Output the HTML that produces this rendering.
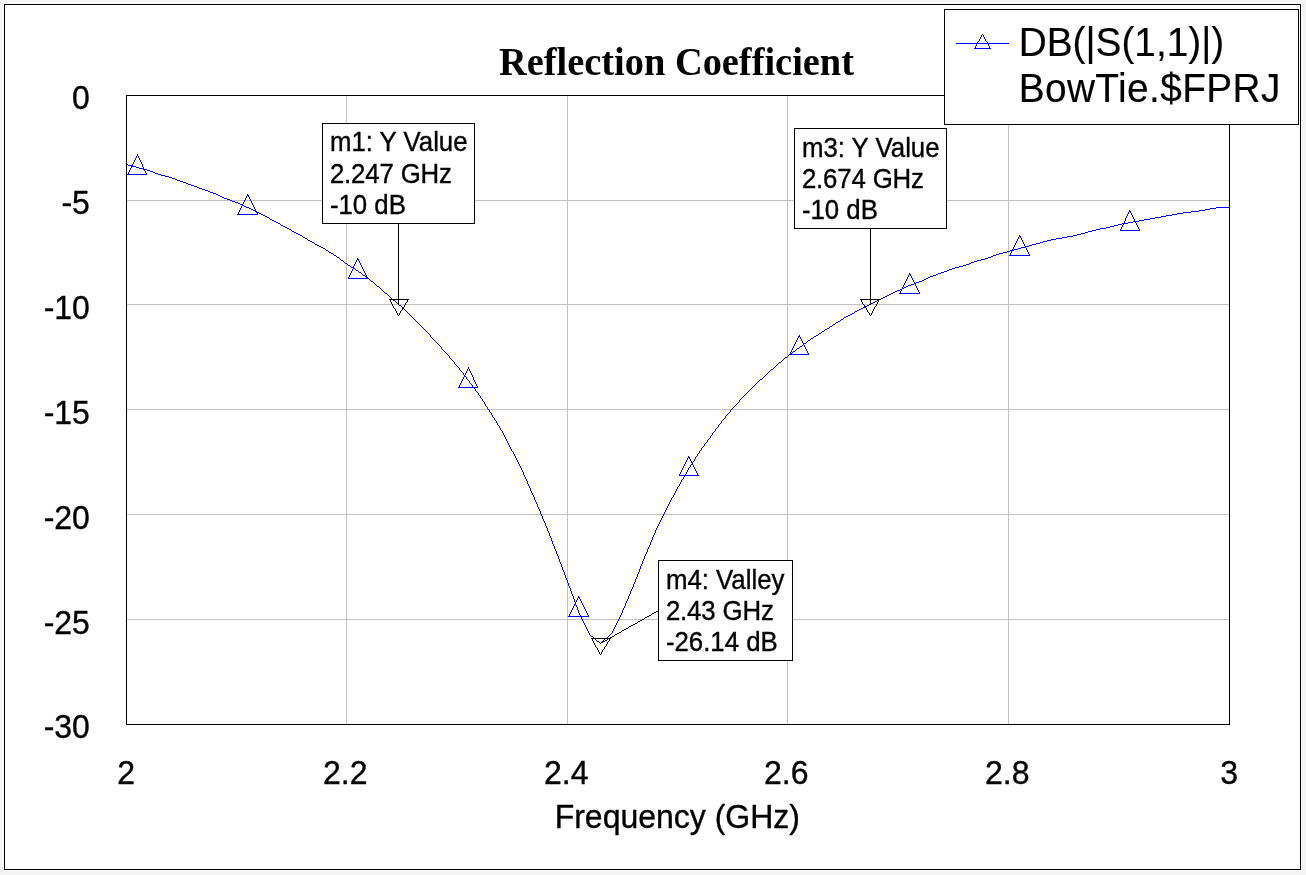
<!DOCTYPE html>
<html lang="en"><head><meta charset="utf-8"><title>Reflection Coefficient</title>
<style>html,body{margin:0;padding:0;background:#f4f4f4}body{width:1306px;height:875px}svg{display:block}text{font-family:"Liberation Sans",Arial,Helvetica,sans-serif;fill:#000;stroke:#000;stroke-width:0.35;stroke-linejoin:round}.t{font-family:"Liberation Serif","Times New Roman",Times,serif;font-weight:bold;stroke-width:0}.l{stroke-width:0.15}.c{shape-rendering:crispEdges;fill:none;stroke-width:1}</style></head><body>
<svg width="1306" height="875" viewBox="0 0 1306 875" role="img" aria-label="Reflection Coefficient chart">
<rect x="0" y="0" width="1306" height="875" fill="#f4f4f4"/>
<rect x="3" y="3" width="1299" height="868" fill="#fff"/>
<rect class="c" x="4.5" y="4.5" width="1296" height="865" stroke="#000"/>
<path class="c" d="M346.5 96V724M567.5 96V724M787.5 96V724M1008.5 96V724M127 200.5H1229M127 304.5H1229M127 409.5H1229M127 514.5H1229M127 619.5H1229" stroke="#c0c0c0"/>
<path class="c" d="M126 164.5h2M128 165.5h5M131 166.5h5M136 167.5h3M139 168.5h5M143 169.5h4M147 170.5h3M150 171.5h3M153 172.5h2M155 173.5h3M127 174.5h20M158 174.5h3M161 175.5h4M165 176.5h4M169 177.5h3M172 178.5h3M175 179.5h2M177 180.5h3M180 181.5h3M183 182.5h3M186 183.5h2M188 184.5h3M191 185.5h3M194 186.5h3M197 187.5h2M199 188.5h3M202 189.5h3M205 190.5h3M208 191.5h2M210 192.5h3M213 193.5h3M216 194.5h2M218 195.5h2M247 195.5h2M220 196.5h2M222 197.5h2M224 198.5h3M227 199.5h3M230 200.5h2M232 201.5h3M235 202.5h3M238 203.5h2M240 204.5h3M242 205.5h2M244 206.5h2M246 207.5h3M1216 207.5h14M249 208.5h2M1210 208.5h6M251 209.5h2M1205 209.5h5M253 210.5h3M1199 210.5h6M255 211.5h2M1129 211.5h2M1191 211.5h8M256 212.5h3M1183 212.5h8M259 213.5h2M1177 213.5h6M237 214.5h21M261 214.5h2M1172 214.5h5M263 215.5h2M1166 215.5h6M265 216.5h2M1161 216.5h5M267 217.5h2M1155 217.5h6M1150 218.5h5M270 219.5h2M1144 219.5h6M272 220.5h2M1139 220.5h5M274 221.5h2M1133 221.5h6M276 222.5h2M1128 222.5h5M278 223.5h2M1122 223.5h6M1118 224.5h4M281 225.5h2M1114 225.5h4M283 226.5h2M1110 226.5h4M285 227.5h2M1106 227.5h4M287 228.5h2M1100 228.5h6M289 229.5h2M1096 229.5h4M1092 230.5h4M1120 230.5h20M292 231.5h2M1088 231.5h4M294 232.5h2M1085 232.5h3M296 233.5h2M1081 233.5h4M298 234.5h2M1077 234.5h4M300 235.5h2M1073 235.5h4M1019 236.5h2M1067 236.5h6M303 237.5h2M1062 237.5h5M305 238.5h2M1056 238.5h6M1051 239.5h5M308 240.5h2M1047 240.5h4M310 241.5h2M1043 241.5h4M312 242.5h2M1040 242.5h3M1036 243.5h4M315 244.5h2M1032 244.5h4M317 245.5h2M1029 245.5h3M319 246.5h2M1025 246.5h4M321 247.5h2M1021 247.5h5M323 248.5h2M1018 248.5h3M1014 249.5h4M326 250.5h2M1010 250.5h4M1007 251.5h3M329 252.5h2M1003 252.5h4M331 253.5h2M999 253.5h4M996 254.5h3M334 255.5h2M993 255.5h3M1009 255.5h21M991 256.5h2M337 257.5h2M988 257.5h3M985 258.5h3M357 259.5h2M981 259.5h4M341 260.5h2M977 260.5h4M974 261.5h3M971 262.5h3M345 263.5h2M969 263.5h2M966 264.5h3M348 265.5h2M963 265.5h3M959 266.5h4M351 267.5h3M955 267.5h4M353 268.5h2M952 268.5h3M949 269.5h3M356 270.5h2M947 270.5h2M944 271.5h3M359 272.5h2M941 272.5h3M938 273.5h3M909 274.5h2M936 274.5h2M363 275.5h2M933 275.5h3M365 276.5h2M930 276.5h3M366 277.5h2M928 277.5h2M348 278.5h21M926 278.5h2M924 279.5h2M922 280.5h2M371 281.5h2M919 281.5h3M916 282.5h3M914 283.5h2M911 284.5h3M908 285.5h3M377 286.5h2M906 286.5h2M904 287.5h2M902 288.5h2M900 289.5h2M897 290.5h3M895 291.5h2M893 292.5h2M385 293.5h2M891 293.5h2M899 293.5h21M889 294.5h2M887 295.5h2M885 296.5h2M883 297.5h2M881 298.5h2M879 299.5h2M393 300.5h2M877 300.5h2M875 301.5h2M873 302.5h2M871 303.5h2M869 304.5h2M399 305.5h2M867 305.5h2M865 306.5h2M863 307.5h2M861 308.5h2M859 309.5h2M857 310.5h2M855 311.5h2M852 313.5h2M850 314.5h2M848 315.5h2M846 316.5h2M844 317.5h2M841 319.5h2M838 321.5h2M836 322.5h2M833 324.5h2M830 326.5h2M827 328.5h2M825 329.5h2M822 331.5h2M819 333.5h2M816 335.5h2M798 336.5h2M814 336.5h2M811 338.5h2M808 340.5h2M803 343.5h3M800 346.5h2M797 348.5h2M793 351.5h2M790 353.5h2M789 354.5h20M785 357.5h2M779 362.5h2M771 369.5h2M464 376.5h2M760 379.5h2M458 387.5h20M688 457.5h2M691 462.5h2M691 464.5h2M679 475.5h20M578 597.5h2M574 604.5h2M568 616.5h21M591 636.5h2M605 638.5h2M597 641.5h2M128.5 172v2M129.5 170v2M130.5 168v2M131.5 167v1M132.5 164v1M133.5 162v2M134.5 160v2M135.5 158v2M136.5 156v2M137.5 154v2M138.5 156v2M139.5 158v2M140.5 160v2M141.5 162v2M142.5 164v3M143.5 167v1M144.5 170v1M145.5 171v2M146.5 173v1M238.5 212v2M239.5 210v2M240.5 208v2M241.5 206v2M243.5 202v2M244.5 200v2M245.5 198v2M246.5 196v2M247.5 194v1M248.5 196v1M249.5 197v2M250.5 199v2M251.5 201v2M252.5 203v2M253.5 205v2M254.5 207v2M255.5 209v1M257.5 213v1M269.5 218v1M280.5 224v1M291.5 230v1M302.5 236v1M307.5 239v1M314.5 243v1M325.5 249v1M328.5 251v1M333.5 254v1M336.5 256v1M339.5 258v1M340.5 259v1M343.5 261v1M344.5 262v1M347.5 264v1M348.5 277v1M349.5 275v2M350.5 266v1M350.5 273v2M351.5 271v2M352.5 269v2M353.5 266v1M354.5 264v2M355.5 262v2M355.5 269v1M356.5 260v2M357.5 258v1M358.5 260v1M358.5 271v1M359.5 261v2M360.5 263v2M361.5 265v2M361.5 273v1M362.5 267v2M362.5 274v1M363.5 269v2M364.5 271v2M365.5 273v2M366.5 275v1M369.5 279v1M370.5 280v1M373.5 282v1M374.5 283v1M375.5 284v1M376.5 285v1M379.5 287v1M380.5 288v1M381.5 289v1M382.5 290v1M383.5 291v1M384.5 292v1M387.5 294v1M388.5 295v1M389.5 296v1M390.5 297v1M391.5 298v1M392.5 299v1M395.5 301v1M396.5 302v1M397.5 303v1M398.5 304v1M401.5 306v1M402.5 307v1M403.5 308v1M404.5 309v1M405.5 310v1M406.5 311v1M407.5 312v1M408.5 313v1M409.5 314v1M410.5 315v1M411.5 316v1M412.5 317v1M413.5 318v1M414.5 319v1M415.5 320v1M416.5 321v1M417.5 322v1M418.5 323v1M419.5 324v1M420.5 325v1M421.5 326v1M422.5 327v1M423.5 328v1M424.5 329v1M425.5 330v1M426.5 331v1M427.5 332v1M428.5 333v1M429.5 334v1M430.5 335v2M431.5 337v1M432.5 338v1M433.5 339v1M434.5 340v1M435.5 341v1M436.5 342v1M437.5 343v1M438.5 344v1M439.5 345v1M440.5 346v1M441.5 347v2M442.5 349v1M443.5 350v1M444.5 351v1M445.5 352v1M446.5 353v1M447.5 354v1M448.5 355v1M449.5 356v2M450.5 358v1M451.5 359v1M452.5 360v1M453.5 361v1M454.5 362v2M455.5 364v1M456.5 365v1M457.5 366v1M458.5 367v1M459.5 368v2M459.5 385v2M460.5 370v1M460.5 383v2M461.5 371v1M461.5 381v2M462.5 372v1M462.5 379v2M463.5 373v2M463.5 377v2M464.5 375v1M465.5 373v2M466.5 371v2M466.5 377v2M467.5 369v2M467.5 379v1M468.5 367v2M468.5 380v1M469.5 369v2M469.5 381v2M470.5 371v2M470.5 383v1M471.5 373v2M471.5 384v1M472.5 375v2M472.5 385v2M473.5 377v3M474.5 380v2M474.5 388v1M475.5 382v2M475.5 389v2M476.5 384v2M476.5 391v1M477.5 386v1M477.5 392v1M478.5 393v2M479.5 395v1M480.5 396v2M481.5 398v1M482.5 399v2M483.5 401v1M484.5 402v2M485.5 404v2M486.5 406v1M487.5 407v2M488.5 409v1M489.5 410v2M490.5 412v1M491.5 413v2M492.5 415v2M493.5 417v1M494.5 418v2M495.5 420v1M496.5 421v2M497.5 423v2M498.5 425v1M499.5 426v2M500.5 428v2M501.5 430v1M502.5 431v2M503.5 433v2M504.5 435v2M505.5 437v2M506.5 439v2M507.5 441v2M508.5 443v2M509.5 445v2M510.5 447v2M511.5 449v2M512.5 451v1M513.5 452v2M514.5 454v2M515.5 456v2M516.5 458v2M517.5 460v2M518.5 462v2M519.5 464v2M520.5 466v2M521.5 468v2M522.5 470v2M523.5 472v3M524.5 475v2M525.5 477v2M526.5 479v2M527.5 481v3M528.5 484v2M529.5 486v2M530.5 488v3M531.5 491v2M532.5 493v2M533.5 495v2M534.5 497v3M535.5 500v2M536.5 502v2M537.5 504v3M538.5 507v2M539.5 509v2M540.5 511v3M541.5 514v2M542.5 516v3M543.5 519v2M544.5 521v2M545.5 523v3M546.5 526v2M547.5 528v3M548.5 531v2M549.5 533v3M550.5 536v2M551.5 538v3M552.5 541v3M553.5 544v2M554.5 546v3M555.5 549v2M556.5 551v3M557.5 554v2M558.5 556v3M559.5 559v3M560.5 562v2M561.5 564v3M562.5 567v3M563.5 570v2M564.5 572v3M565.5 575v3M566.5 578v2M567.5 580v3M568.5 583v3M569.5 586v2M569.5 614v2M570.5 588v3M570.5 612v2M571.5 591v3M571.5 610v2M572.5 594v2M572.5 608v2M573.5 596v3M573.5 606v2M574.5 599v3M574.5 605v1M575.5 602v2M576.5 600v2M576.5 605v2M577.5 598v2M577.5 607v3M578.5 596v1M578.5 610v3M579.5 598v1M579.5 613v2M580.5 599v2M580.5 615v1M581.5 601v2M581.5 617v2M582.5 603v2M582.5 619v2M583.5 605v2M583.5 621v2M584.5 607v2M584.5 623v2M585.5 609v2M585.5 625v2M586.5 611v2M586.5 627v2M587.5 613v2M587.5 629v2M588.5 615v1M588.5 631v2M589.5 633v2M590.5 635v1M593.5 637v1M594.5 638v1M595.5 639v1M596.5 640v1M599.5 642v1M600.5 643v1M601.5 642v1M602.5 641v1M603.5 640v1M604.5 639v1M607.5 637v1M608.5 636v1M609.5 635v1M610.5 634v1M611.5 633v1M612.5 631v2M613.5 629v2M614.5 627v2M615.5 625v2M616.5 623v2M617.5 621v2M618.5 619v2M619.5 617v2M620.5 615v2M621.5 613v2M622.5 610v3M623.5 608v2M624.5 606v2M625.5 603v3M626.5 601v2M627.5 599v2M628.5 596v3M629.5 594v2M630.5 591v3M631.5 589v2M632.5 587v2M633.5 584v3M634.5 582v2M635.5 579v3M636.5 577v2M637.5 574v3M638.5 572v2M639.5 569v3M640.5 566v3M641.5 564v2M642.5 561v3M643.5 559v2M644.5 556v3M645.5 554v2M646.5 552v2M647.5 549v3M648.5 547v2M649.5 545v2M650.5 542v3M651.5 540v2M652.5 537v3M653.5 535v2M654.5 533v2M655.5 530v3M656.5 528v2M657.5 526v2M658.5 524v2M659.5 522v2M660.5 520v2M661.5 518v2M662.5 516v2M663.5 514v2M664.5 512v2M665.5 510v2M666.5 508v2M667.5 506v2M668.5 504v2M669.5 502v2M670.5 500v2M671.5 498v2M672.5 497v1M673.5 495v2M674.5 493v2M675.5 491v2M676.5 489v2M677.5 487v2M678.5 486v1M679.5 474v1M679.5 484v2M680.5 472v2M680.5 482v2M681.5 470v2M681.5 480v2M682.5 468v2M682.5 479v1M683.5 466v2M683.5 477v2M684.5 464v2M684.5 476v1M685.5 462v2M685.5 474v1M686.5 460v2M686.5 472v2M687.5 458v2M687.5 470v2M688.5 456v1M688.5 468v2M689.5 458v1M689.5 467v1M690.5 459v2M690.5 465v2M691.5 461v1M692.5 463v1M693.5 461v1M693.5 465v2M694.5 459v2M694.5 467v2M695.5 457v2M695.5 469v2M696.5 456v1M696.5 471v2M697.5 454v2M697.5 473v2M698.5 453v1M699.5 451v2M700.5 450v1M701.5 448v2M702.5 447v1M703.5 446v1M704.5 444v2M705.5 443v1M706.5 442v1M707.5 440v2M708.5 439v1M709.5 438v1M710.5 436v2M711.5 435v1M712.5 433v2M713.5 432v1M714.5 431v1M715.5 429v2M716.5 428v1M717.5 427v1M718.5 425v2M719.5 424v1M720.5 423v1M721.5 421v2M722.5 420v1M723.5 419v1M724.5 418v1M725.5 416v2M726.5 415v1M727.5 414v1M728.5 413v1M729.5 412v1M730.5 410v2M731.5 409v1M732.5 408v1M733.5 407v1M734.5 406v1M735.5 405v1M736.5 404v1M737.5 403v1M738.5 402v1M739.5 400v2M740.5 399v1M741.5 398v1M742.5 397v1M743.5 396v1M744.5 395v1M745.5 394v1M746.5 393v1M747.5 392v1M748.5 391v1M749.5 390v1M750.5 389v1M751.5 388v1M752.5 387v1M753.5 386v1M754.5 385v1M755.5 384v1M756.5 383v1M757.5 382v1M758.5 381v1M759.5 380v1M762.5 378v1M763.5 377v1M764.5 376v1M765.5 375v1M766.5 374v1M767.5 373v1M768.5 372v1M769.5 371v1M770.5 370v1M773.5 368v1M774.5 367v1M775.5 366v1M776.5 365v1M777.5 364v1M778.5 363v1M781.5 361v1M782.5 360v1M783.5 359v1M784.5 358v1M787.5 356v1M788.5 355v1M790.5 352v1M791.5 350v2M792.5 348v2M792.5 352v1M793.5 346v2M794.5 344v2M795.5 342v2M795.5 350v1M796.5 340v2M796.5 349v1M797.5 338v2M798.5 337v1M799.5 335v1M799.5 347v1M800.5 337v2M801.5 339v2M802.5 341v2M802.5 345v1M803.5 344v1M804.5 345v2M805.5 347v2M806.5 342v1M806.5 349v2M807.5 341v1M807.5 351v2M808.5 353v1M810.5 339v1M813.5 337v1M818.5 334v1M821.5 332v1M824.5 330v1M829.5 327v1M832.5 325v1M835.5 323v1M840.5 320v1M843.5 318v1M854.5 312v1M900.5 291v2M901.5 290v1M902.5 287v1M903.5 285v2M904.5 283v2M905.5 281v2M906.5 279v2M907.5 277v2M908.5 275v2M909.5 273v1M910.5 275v1M911.5 276v2M912.5 278v2M913.5 280v2M914.5 282v1M915.5 284v2M916.5 286v2M917.5 288v2M918.5 290v2M919.5 292v1M1010.5 253v2M1011.5 251v2M1012.5 249v1M1013.5 247v2M1014.5 245v2M1015.5 243v2M1016.5 241v2M1017.5 239v2M1018.5 237v2M1019.5 235v1M1020.5 237v1M1021.5 238v2M1022.5 240v2M1023.5 242v2M1024.5 244v2M1026.5 248v2M1027.5 250v2M1028.5 252v2M1029.5 254v1M1120.5 229v1M1121.5 227v2M1122.5 225v2M1123.5 224v1M1124.5 221v2M1125.5 218v3M1126.5 216v2M1127.5 214v2M1128.5 212v2M1129.5 210v1M1130.5 212v1M1131.5 213v2M1132.5 215v2M1133.5 217v2M1134.5 219v2M1135.5 222v1M1136.5 223v2M1137.5 225v2M1138.5 227v2M1139.5 229v1" stroke="#0000ff"/>
<rect class="c" x="126.5" y="95.5" width="1103" height="629" stroke="#000"/>
<path class="c" d="M398.5 223V305M870.5 228V305M389 299.5h20M860 299.5h20M656 611.5h2M654 612.5h2M652 613.5h2M649 615.5h2M647 616.5h2M645 617.5h2M642 619.5h2M640 620.5h2M638 621.5h2M635 623.5h2M633 624.5h2M631 625.5h2M629 626.5h2M626 628.5h2M624 629.5h2M622 630.5h2M619 632.5h2M617 633.5h2M615 634.5h2M612 636.5h2M610 637.5h2M591 638.5h20M605 640.5h2M603 641.5h2M601 642.5h2M390.5 300v2M391.5 302v2M392.5 304v2M393.5 306v2M394.5 308v1M395.5 309v2M396.5 311v2M397.5 313v2M398.5 315v1M399.5 313v2M400.5 311v2M401.5 310v1M402.5 308v2M403.5 307v1M404.5 305v2M405.5 303v2M406.5 302v1M407.5 300v2M592.5 639v2M593.5 641v2M594.5 643v2M595.5 645v2M596.5 647v1M597.5 648v2M598.5 650v2M599.5 652v2M600.5 643v1M600.5 654v1M601.5 652v2M602.5 650v2M603.5 649v1M604.5 647v2M605.5 646v1M606.5 644v2M607.5 639v1M607.5 642v2M608.5 641v1M609.5 639v2M614.5 635v1M621.5 631v1M628.5 627v1M637.5 622v1M644.5 618v1M651.5 614v1M658.5 610v1M861.5 300v2M862.5 302v2M863.5 304v1M864.5 305v2M865.5 307v1M866.5 308v2M867.5 310v2M868.5 312v1M869.5 313v2M870.5 315v1M871.5 313v2M872.5 311v2M873.5 309v2M874.5 307v2M875.5 306v1M876.5 304v2M877.5 302v2M878.5 300v2" stroke="#000"/>
<rect class="c" x="322.5" y="123.5" width="152" height="100" style="fill:#fff" stroke="#000"/>
<text transform="translate(329.9 150.9) scale(1 1.04)" font-size="25.8">m1: Y Value</text>
<text transform="translate(329.9 182.9) scale(1 1.04)" font-size="25.8" letter-spacing="-0.15">2.247 GHz</text>
<text transform="translate(329.9 213.6) scale(1 1.04)" font-size="25.8">-10 dB</text>
<rect class="c" x="794.5" y="128.5" width="152" height="100" style="fill:#fff" stroke="#000"/>
<text transform="translate(801.9 156.8) scale(1 1.04)" font-size="25.8">m3: Y Value</text>
<text transform="translate(801.9 187.9) scale(1 1.04)" font-size="25.8" letter-spacing="-0.15">2.674 GHz</text>
<text transform="translate(801.9 218.6) scale(1 1.04)" font-size="25.8">-10 dB</text>
<rect class="c" x="658.5" y="560.5" width="134" height="100" style="fill:#fff" stroke="#000"/>
<text transform="translate(665.9 588.8) scale(1 1.04)" font-size="25.8">m4: Valley</text>
<text transform="translate(665.9 619.9) scale(1 1.04)" font-size="25.8" letter-spacing="-0.15">2.43 GHz</text>
<text transform="translate(665.9 650.6) scale(1 1.04)" font-size="25.8">-26.14 dB</text>
<rect class="c" x="944.5" y="9.5" width="354" height="115" style="fill:#fff" stroke="#000"/>
<path class="c" d="M956 43.5h53M974 48.5h17M975.5 46v2M976.5 44v2M977.5 42v1M978.5 41v1M979.5 39v2M980.5 37v2M981.5 35v2M982.5 34v1M983.5 35v2M984.5 37v2M985.5 39v2M986.5 41v1M987.5 42v1M988.5 44v2M989.5 46v2" stroke="#0000ff"/>
<text transform="translate(1018.7 55.8) scale(1 1.03)" font-size="38.8" class="l">DB(|S(1,1)|)</text>
<text transform="translate(1018.7 101.9) scale(1 1.03)" font-size="38.8" class="l" letter-spacing="0.4">BowTie.$FPRJ</text>
<text transform="translate(676.5 74.9) scale(1 1.03)" font-size="38.4" class="t" text-anchor="middle">Reflection Coefficient</text>
<text transform="translate(89.9 109.1) scale(1 1.03)" font-size="32" text-anchor="end">0</text>
<text transform="translate(89.9 214.1) scale(1 1.03)" font-size="32" text-anchor="end">-5</text>
<text transform="translate(89.9 319.1) scale(1 1.03)" font-size="32" text-anchor="end">-10</text>
<text transform="translate(89.9 424.1) scale(1 1.03)" font-size="32" text-anchor="end">-15</text>
<text transform="translate(89.9 529.1) scale(1 1.03)" font-size="32" text-anchor="end">-20</text>
<text transform="translate(89.9 634.1) scale(1 1.03)" font-size="32" text-anchor="end">-25</text>
<text transform="translate(89.9 738.1) scale(1 1.03)" font-size="32" text-anchor="end">-30</text>
<text transform="translate(126.1 783.6) scale(1 1.03)" font-size="32" text-anchor="middle">2</text>
<text transform="translate(345.2 783.6) scale(1 1.03)" font-size="32" text-anchor="middle">2.2</text>
<text transform="translate(566.2 783.6) scale(1 1.03)" font-size="32" text-anchor="middle">2.4</text>
<text transform="translate(786.2 783.6) scale(1 1.03)" font-size="32" text-anchor="middle">2.6</text>
<text transform="translate(1007.2 783.6) scale(1 1.03)" font-size="32" text-anchor="middle">2.8</text>
<text transform="translate(1229.1 783.6) scale(1 1.03)" font-size="32" text-anchor="middle">3</text>
<text transform="translate(677.3 828.4) scale(1 1.03)" font-size="32" text-anchor="middle">Frequency (GHz)</text>
</svg></body></html>
